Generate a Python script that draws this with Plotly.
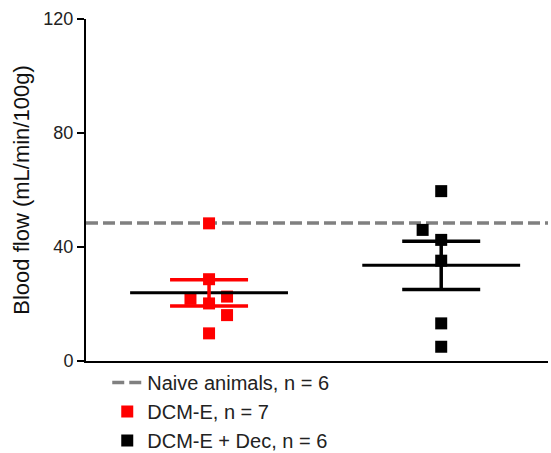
import plotly.graph_objects as go
import numpy as np

# ---- data ----
groups = ["DCM-E, n = 7", "DCM-E + Dec, n = 6"]
group_pos = [1, 3]
red_values = [48.3, 28.7, 21.8, 20.2, 22.6, 16.1, 9.7]
red_jitter = [0, 0, -0.16, 0, 0.155, 0.155, 0]
black_values = [59.6, 46.0, 42.5, 35.2, 13.2, 5.0]
black_jitter = [0, -0.16, 0, 0, 0, 0]
naive_mean = 48.4
naive_label = "Naive animals, n = 6"
colors = ["#ff0000", "#000000"]
y_ticks = [0, 40, 80, 120]

FONT = "Liberation Sans, Arial, sans-serif"
x_range = [-0.06, 3.92]

fig = go.Figure()

# naive dashed reference line (legend first)
fig.add_trace(go.Scatter(
    x=x_range, y=[naive_mean, naive_mean], mode="lines",
    line=dict(color="#808080", width=3.5, dash="12px,5px"),
    name=naive_label, showlegend=True, cliponaxis=False,
))

all_vals = [red_values, black_values]
all_jit = [red_jitter, black_jitter]
for i, (name, pos, vals, jit, col) in enumerate(zip(groups, group_pos, all_vals, all_jit, colors)):
    vals_a = np.array(vals)
    mean = vals_a.mean()
    sem = vals_a.std(ddof=1) / np.sqrt(len(vals_a))
    fig.add_trace(go.Scatter(
        x=[pos + j for j in jit], y=vals, mode="markers",
        marker=dict(symbol="square", size=12, color=col),
        name=name, cliponaxis=False,
    ))
    # mean line
    fig.add_trace(go.Scatter(
        x=[pos - 0.68, pos + 0.68], y=[mean, mean], mode="lines",
        line=dict(color="#000000", width=3), showlegend=False, hoverinfo="skip",
    ))
    # SEM error bar
    fig.add_trace(go.Scatter(
        x=[pos], y=[mean], mode="markers",
        marker=dict(size=0.1, color=col, opacity=0),
        error_y=dict(type="constant", value=sem, color=col, thickness=3.5, width=39),
        showlegend=False, hoverinfo="skip",
    ))

fig.update_layout(
    width=551, height=453,
    margin=dict(l=86, r=3, t=19, b=92, autoexpand=False),
    paper_bgcolor="white", plot_bgcolor="white",
    font=dict(family=FONT, size=18, color="#222222"),
    showlegend=True,
    legend=dict(
        x=0.046, y=-0.006, xanchor="left", yanchor="top",
        font=dict(family=FONT, size=20, color="#222222"),
        bgcolor="rgba(0,0,0,0)", tracegroupgap=0, itemwidth=30,
    ),
    xaxis=dict(
        range=x_range, showticklabels=False, ticks="", showgrid=False,
        zeroline=False, showline=True, linecolor="black", linewidth=2,
    ),
    yaxis=dict(
        range=[0, 120], tickvals=y_ticks, ticks="outside", ticklen=7,
        tickwidth=2, tickcolor="black", showgrid=False, zeroline=False,
        showline=True, linecolor="black", linewidth=2,
        title=dict(text="Blood flow (mL/min/100g)", standoff=8,
                   font=dict(family=FONT, size=22, color="#111111")),
        tickfont=dict(family=FONT, size=18, color="#222222"),
    ),
)

fig.write_html("out.html", config={"displayModeBar": False},
               post_script="document.body.style.margin='0';")
